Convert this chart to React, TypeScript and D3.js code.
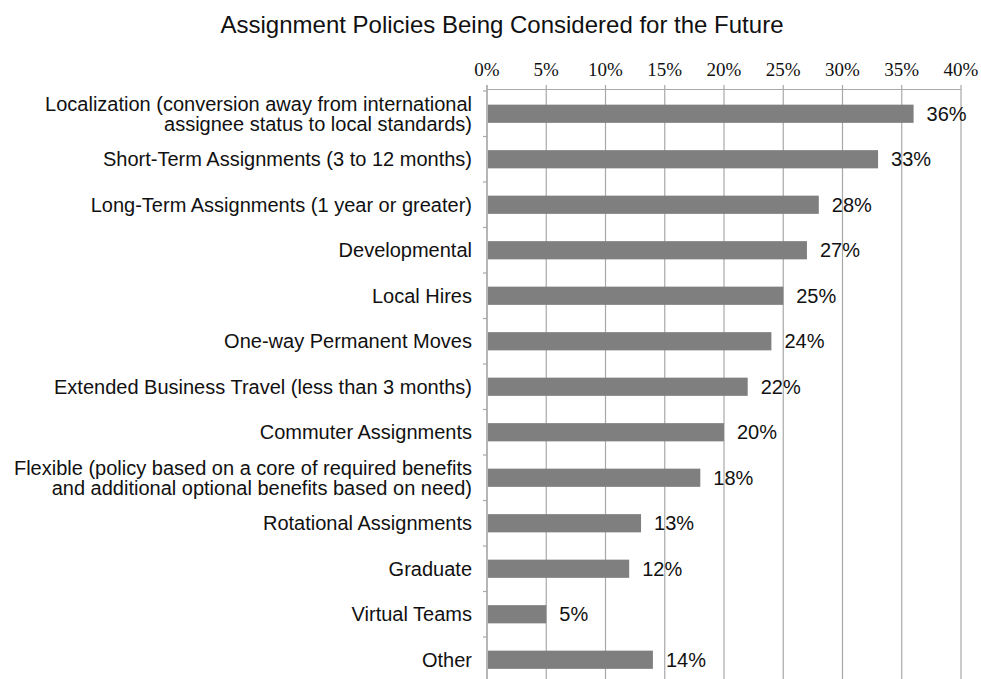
import React from "react";
import * as d3 from "d3";

const categories: string[][] = [
  ["Localization (conversion away from international", "assignee status to local standards)"],
  ["Short-Term Assignments (3 to 12 months)"],
  ["Long-Term Assignments (1 year or greater)"],
  ["Developmental"],
  ["Local Hires"],
  ["One-way Permanent Moves"],
  ["Extended Business Travel (less than 3 months)"],
  ["Commuter Assignments"],
  ["Flexible (policy based on a core of required benefits", "and additional optional benefits based on need)"],
  ["Rotational Assignments"],
  ["Graduate"],
  ["Virtual Teams"],
  ["Other"],
];
const values: number[] = [36, 33, 28, 27, 25, 24, 22, 20, 18, 13, 12, 5, 14];
const tickValues: number[] = [0, 5, 10, 15, 20, 25, 30, 35, 40];
const title = "Assignment Policies Being Considered for the Future";

const W = 981;
const H = 679;
const left = 487;
const right = 961;
const top = 91;
const band = 45.5;

export default function App() {
  const x = d3.scaleLinear().domain([0, 40]).range([left, right]);
  const idx = categories.map((_, i) => i);
  const y = d3
    .scaleBand<number>()
    .domain(idx)
    .range([top, top + band * categories.length])
    .paddingInner(0.6)
    .paddingOuter(0.3);
  const boundaries = d3.range(categories.length + 1).map((i) => top + i * band);
  const sans = "'Liberation Sans', Arial, Helvetica, sans-serif";
  const serif = "'Liberation Serif', 'DejaVu Serif', serif";
  return (
    <svg
      width={W}
      height={H}
      style={{ position: "absolute", left: 0, top: 0, background: "#fff" }}
    >
      <text x={502} y={33} textAnchor="middle" fontFamily={sans} fontSize={24} fill="#111">
        {title}
      </text>
      {/* gridlines */}
      {tickValues.map((t) => (
        <g key={t}>
          <line x1={x(t)} x2={x(t)} y1={85} y2={H + 5} stroke="#a8a8a8" strokeWidth={1.2} />
          <text x={x(t)} y={76} textAnchor="middle" fontFamily={serif} fontSize={19} fill="#111">
            {t}%
          </text>
        </g>
      ))}
      {/* top axis line */}
      <line x1={left} x2={right} y1={89.5} y2={89.5} stroke="#a8a8a8" strokeWidth={1.2} />
      {/* left axis ticks */}
      {boundaries.map((b, i) => (
        <line key={i} x1={483} x2={left} y1={b} y2={b} stroke="#a8a8a8" strokeWidth={1.2} />
      ))}
      <line x1={left} x2={left} y1={85} y2={H + 5} stroke="#a8a8a8" strokeWidth={1.2} />
      {/* bars */}
      {values.map((v, i) => (
        <rect
          key={i}
          x={x(0) + 1}
          y={y(i)!}
          width={x(v) - x(0) - 1}
          height={y.bandwidth()}
          fill="#7f7f7f"
        />
      ))}
      {/* value labels */}
      {values.map((v, i) => (
        <text
          key={i}
          x={x(v) + 13}
          y={y(i)! + y.bandwidth() / 2 + 7}
          fontFamily={sans}
          fontSize={20}
          fill="#111"
        >
          {v}%
        </text>
      ))}
      {/* category labels */}
      {categories.map((lines, i) => {
        const cy = y(i)! + y.bandwidth() / 2;
        const lh = 20;
        const start = cy - ((lines.length - 1) * lh) / 2 + 7;
        return (
          <text key={i} textAnchor="end" fontFamily={sans} fontSize={20} fill="#111">
            {lines.map((l, j) => (
              <tspan key={j} x={472} y={start + j * lh}>
                {l}
              </tspan>
            ))}
          </text>
        );
      })}
    </svg>
  );
}
